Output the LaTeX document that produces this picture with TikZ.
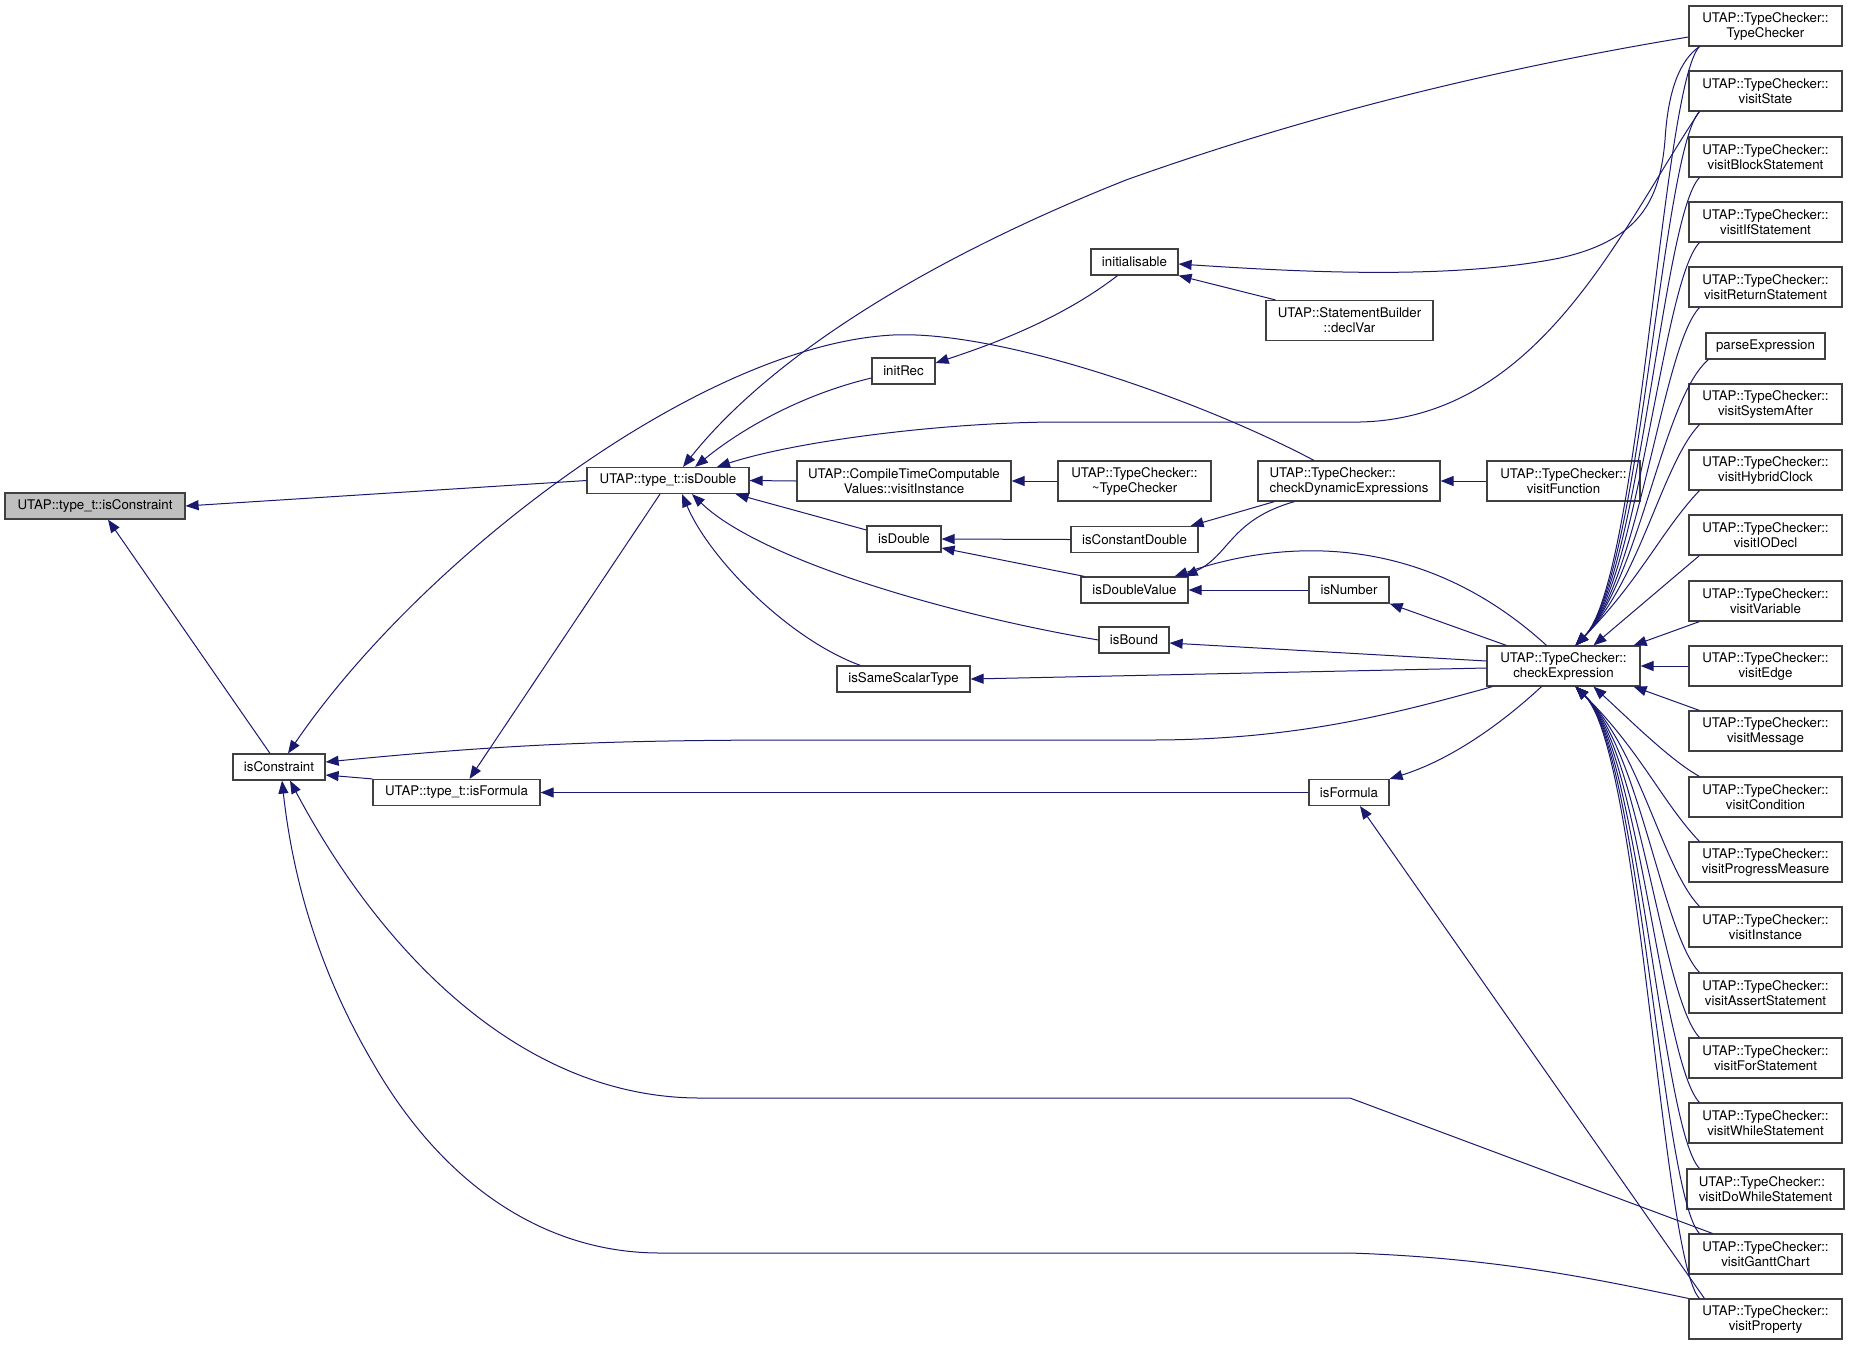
\documentclass[tikz,border=0pt]{standalone}
\usepackage{fontspec}
\setmainfont{TeX Gyre Heros}
\usepackage{tikz}
\usetikzlibrary{arrows.meta}
\definecolor{dxblue}{HTML}{191970}

\begin{document}
\begin{tikzpicture}[x=1pt, y=-1pt,
        fn/.style={draw=black!75, line width=1.2pt, fill=white, inner sep=0pt, minimum height=26pt, align=center, font=\fontsize{13.3}{15}\selectfont},
        twoline/.style={minimum height=40pt},
        calls/.style={draw=dxblue, line width=1pt, {Triangle[length=13pt,width=10pt]}-}]
        \useasboundingbox (0,0) rectangle (1849,1345);

        \node[fn, fill=black!25, minimum width=180pt] (cons) at (95,506) {UTAP::type\_t::isConstraint};
        \node[fn, minimum width=92pt] (consF) at (279,767) {isConstraint};
        \node[fn, minimum width=162pt] (dblT) at (668,480.5) {UTAP::type\_t::isDouble};
        \node[fn, minimum width=167pt] (fmlT) at (456.5,792.5) {UTAP::type\_t::isFormula};
        \node[fn, minimum width=63pt] (initRec) at (903.5,371) {initRec};
        \node[fn, twoline, minimum width=214pt] (ctcv) at (904,481) {UTAP::CompileTimeComputable\\Values::visitInstance};
        \node[fn, minimum width=74pt] (isDbl) at (904,539) {isDouble};
        \node[fn, minimum width=133pt] (sameST) at (903.5,679) {isSameScalarType};
        \node[fn, minimum width=87pt] (initable) at (1134.5,262) {initialisable};
        \node[fn, twoline, minimum width=167pt] (declVar) at (1349.5,320.5) {UTAP::StatementBuilder\\::declVar};
        \node[fn, twoline, minimum width=153pt] (dtor) at (1134.5,481) {UTAP::TypeChecker::\\\textasciitilde TypeChecker};
        \node[fn, twoline, align=left, minimum width=182pt] (chkDyn) at (1349,481) {UTAP::TypeChecker::\\checkDynamicExpressions};
        \node[fn, twoline, minimum width=153pt] (visFunc) at (1563.5,481) {UTAP::TypeChecker::\\visitFunction};
        \node[fn, minimum width=127pt] (constDbl) at (1134.5,539.5) {isConstantDouble};
        \node[fn, minimum width=107pt] (dblVal) at (1134.5,590) {isDoubleValue};
        \node[fn, minimum width=80pt] (isNum) at (1349,590) {isNumber};
        \node[fn, minimum width=70pt] (isBnd) at (1134,640) {isBound};
        \node[fn, twoline, minimum width=153pt] (chkExpr) at (1563.5,666) {UTAP::TypeChecker::\\checkExpression};
        \node[fn, minimum width=80pt] (isFml) at (1349,792.5) {isFormula};

        \node[fn, twoline, minimum width=153pt] (tcCtor) at (1765.5,26) {UTAP::TypeChecker::\\TypeChecker};
        \node[fn, twoline, minimum width=153pt] (tcState) at (1765.5,91) {UTAP::TypeChecker::\\visitState};
        \node[fn, twoline, minimum width=153pt] (tcBlock) at (1765.5,157) {UTAP::TypeChecker::\\visitBlockStatement};
        \node[fn, twoline, minimum width=153pt] (tcIf) at (1765.5,222) {UTAP::TypeChecker::\\visitIfStatement};
        \node[fn, twoline, minimum width=153pt] (tcReturn) at (1765.5,287) {UTAP::TypeChecker::\\visitReturnStatement};
        \node[fn, minimum width=119pt] (parseExpr) at (1765.5,346) {parseExpression};
        \node[fn, twoline, minimum width=153pt] (tcSysAfter) at (1765.5,404) {UTAP::TypeChecker::\\visitSystemAfter};
        \node[fn, twoline, minimum width=153pt] (tcHybrid) at (1765.5,470) {UTAP::TypeChecker::\\visitHybridClock};
        \node[fn, twoline, minimum width=153pt] (tcIODecl) at (1765.5,535) {UTAP::TypeChecker::\\visitIODecl};
        \node[fn, twoline, minimum width=153pt] (tcVar) at (1765.5,601) {UTAP::TypeChecker::\\visitVariable};
        \node[fn, twoline, minimum width=153pt] (tcEdge) at (1765.5,666) {UTAP::TypeChecker::\\visitEdge};
        \node[fn, twoline, minimum width=153pt] (tcMsg) at (1765.5,731) {UTAP::TypeChecker::\\visitMessage};
        \node[fn, twoline, minimum width=153pt] (tcCond) at (1765.5,797) {UTAP::TypeChecker::\\visitCondition};
        \node[fn, twoline, minimum width=153pt] (tcProgress) at (1765.5,862) {UTAP::TypeChecker::\\visitProgressMeasure};
        \node[fn, twoline, minimum width=153pt] (tcInst) at (1765.5,927) {UTAP::TypeChecker::\\visitInstance};
        \node[fn, twoline, minimum width=153pt] (tcAssert) at (1765.5,993) {UTAP::TypeChecker::\\visitAssertStatement};
        \node[fn, twoline, minimum width=153pt] (tcFor) at (1765.5,1058) {UTAP::TypeChecker::\\visitForStatement};
        \node[fn, twoline, minimum width=153pt] (tcWhile) at (1765.5,1123) {UTAP::TypeChecker::\\visitWhileStatement};
        \node[fn, twoline, align=left, minimum width=157pt] (tcDoWhile) at (1765.5,1189) {UTAP::TypeChecker::\\visitDoWhileStatement};
        \node[fn, twoline, minimum width=153pt] (tcGantt) at (1765.5,1254) {UTAP::TypeChecker::\\visitGanttChart};
        \node[fn, twoline, minimum width=153pt] (tcProp) at (1765.5,1319) {UTAP::TypeChecker::\\visitProperty};

        \draw[calls] (cons.east) -- (dblT.west);
        \draw[calls] ([xshift=13pt]cons.south) -- ([xshift=-9pt]consF.north);
        \draw[calls] ([xshift=9pt]consF.north) .. controls (420,560) and (700,345) .. (893,335) .. controls (1000,330) and (1200,400) .. ([xshift=-35pt]chkDyn.north);
        \draw[calls] ([yshift=5pt]consF.east) .. controls (500,745) and (600,740) .. (800,740) -- (1150,740) .. controls (1300,740) and (1400,712) .. ([xshift=6pt]chkExpr.south west);
        \draw[calls] ([yshift=-8pt]consF.east) -- (fmlT.north west);
        \draw[calls] ([xshift=11pt]consF.south) .. controls (380,950) and (520,1098) .. (700,1098) -- (1350,1098) -- ([xshift=24pt]tcGantt.north west);
        \draw[calls] ([xshift=3pt]consF.south) .. controls (295,900) and (330,990) .. (373,1063) .. controls (440,1180) and (540,1253) .. (660,1253) -- (1350,1253) .. controls (1500,1258) and (1600,1280) .. (tcProp.north west);
        \draw[calls] ([xshift=13pt]fmlT.north) -- ([xshift=-8pt]dblT.south);
        \draw[calls] (fmlT.east) -- (isFml.west);

        \draw[calls] ([xshift=15pt]dblT.north) .. controls (760,370) and (900,270) .. (1126,180) .. controls (1350,100) and (1550,60) .. ([yshift=-11pt]tcCtor.west);
        \draw[calls] ([xshift=27pt]dblT.north) .. controls (740,430) and (800,395) .. ([yshift=-7pt]initRec.west);
        \draw[calls] ([xshift=49pt]dblT.north) .. controls (800,440) and (950,422) .. (1060,422) -- (1360,422) .. controls (1540,418) and (1620,230) .. ([xshift=11pt]tcState.south west);
        \draw[calls] (dblT.east) -- (ctcv.west);
        \draw[calls] ([xshift=-14pt]dblT.south east) -- ([yshift=9pt]isDbl.west);
        \draw[calls] ([xshift=24pt]dblT.south) .. controls (760,560) and (950,615) .. (isBnd.west);
        \draw[calls] ([xshift=14pt]dblT.south) .. controls (710,560) and (790,640) .. ([xshift=-43pt]sameST.north);

        \draw[calls] (ctcv.east) -- (dtor.west);
        \draw[calls] ([yshift=8pt]initRec.east) .. controls (990,345) and (1060,320) .. ([xshift=-17pt]initable.south);
        \draw[calls] ([yshift=-2pt]initable.east) .. controls (1300,272) and (1450,280) .. (1560,258) .. controls (1640,240) and (1660,200) .. (1665,140) .. controls (1668,90) and (1680,60) .. ([xshift=11pt]tcCtor.south west);
        \draw[calls] (initable.south east) -- ([xshift=10pt]declVar.north west);
        \draw[calls] (isDbl.east) -- (constDbl.west);
        \draw[calls] ([yshift=-9pt]isDbl.east) -- ([xshift=4pt]dblVal.north west);
        \draw[calls] ([xshift=-8pt]constDbl.north east) -- ([xshift=17pt]chkDyn.south west);
        \draw[calls] ([xshift=-4pt]dblVal.north east) .. controls (1230,555) and (1230,520) .. ([xshift=37pt]chkDyn.south west);
        \draw[calls] ([xshift=-14pt]dblVal.north east) .. controls (1280,540) and (1420,530) .. ([xshift=-17pt]chkExpr.north);
        \draw[calls] (dblVal.east) -- (isNum.west);
        \draw[calls] (isNum.south east) -- ([xshift=20pt]chkExpr.north west);
        \draw[calls] ([yshift=-3pt]isBnd.east) -- ([yshift=5pt]chkExpr.west);
        \draw[calls] (sameST.east) -- ([yshift=-2pt]chkExpr.west);
        \draw[calls] (chkDyn.east) -- (visFunc.west);
        \draw[calls] (isFml.north east) .. controls (1450,760) and (1500,725) .. ([xshift=-22pt]chkExpr.south);
        \draw[calls] ([xshift=11pt]isFml.south) -- ([xshift=16pt]tcProp.north west);

        \draw[calls] ([xshift=12pt]chkExpr.north) .. controls (1640,580) and (1662,86) .. ([xshift=11pt]tcCtor.south west);
        \draw[calls] ([xshift=12pt]chkExpr.north) .. controls (1640,580) and (1662,151) .. ([xshift=11pt]tcState.south west);
        \draw[calls] ([xshift=12pt]chkExpr.north) .. controls (1640,580) and (1662,217) .. ([xshift=11pt]tcBlock.south west);
        \draw[calls] ([xshift=12pt]chkExpr.north) .. controls (1640,580) and (1662,282) .. ([xshift=11pt]tcIf.south west);
        \draw[calls] ([xshift=12pt]chkExpr.north) .. controls (1640,580) and (1662,347) .. ([xshift=11pt]tcReturn.south west);
        \draw[calls] ([xshift=12pt]chkExpr.north) .. controls (1640,580) and (1662,399) .. ([xshift=3pt]parseExpr.south west);
        \draw[calls] ([xshift=12pt]chkExpr.north) .. controls (1640,580) and (1662,464) .. ([xshift=11pt]tcSysAfter.south west);
        \draw[calls] ([xshift=12pt]chkExpr.north) .. controls (1640,580) and (1662,530) .. ([xshift=11pt]tcHybrid.south west);
        \draw[calls] ([xshift=30pt]chkExpr.north) -- ([xshift=11pt]tcIODecl.south west);
        \draw[calls] ([xshift=-7pt]chkExpr.north east) -- ([xshift=11pt]tcVar.south west);
        \draw[calls] (chkExpr.east) -- (tcEdge.west);
        \draw[calls] ([xshift=-7pt]chkExpr.south east) -- ([xshift=11pt]tcMsg.north west);
        \draw[calls] ([xshift=30pt]chkExpr.south) .. controls (1630,720) and (1670,760) .. ([xshift=11pt]tcCond.north west);
        \draw[calls] ([xshift=12pt]chkExpr.south) .. controls (1640,750) and (1662,802) .. ([xshift=11pt]tcProgress.north west);
        \draw[calls] ([xshift=12pt]chkExpr.south) .. controls (1640,750) and (1662,867) .. ([xshift=11pt]tcInst.north west);
        \draw[calls] ([xshift=12pt]chkExpr.south) .. controls (1640,750) and (1662,933) .. ([xshift=11pt]tcAssert.north west);
        \draw[calls] ([xshift=12pt]chkExpr.south) .. controls (1640,750) and (1662,998) .. ([xshift=11pt]tcFor.north west);
        \draw[calls] ([xshift=12pt]chkExpr.south) .. controls (1640,750) and (1662,1063) .. ([xshift=11pt]tcWhile.north west);
        \draw[calls] ([xshift=12pt]chkExpr.south) .. controls (1640,750) and (1662,1129) .. ([xshift=13pt]tcDoWhile.north west);
        \draw[calls] ([xshift=12pt]chkExpr.south) .. controls (1640,750) and (1662,1194) .. ([xshift=11pt]tcGantt.north west);
        \draw[calls] ([xshift=12pt]chkExpr.south) .. controls (1640,750) and (1662,1259) .. ([xshift=11pt]tcProp.north west);
\end{tikzpicture}
\end{document}
